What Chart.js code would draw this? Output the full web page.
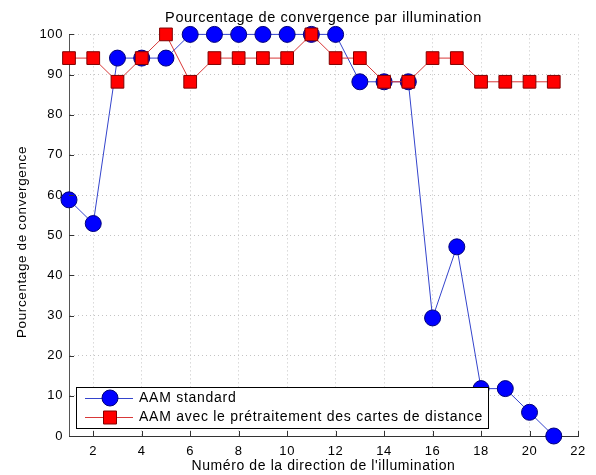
<!DOCTYPE html>
<html>
<head>
<meta charset="utf-8">
<script src="https://cdn.jsdelivr.net/npm/chart.js@4/dist/chart.umd.min.js"></script>
<style>
  html, body { margin: 0; padding: 0; background: #fff; }
  #wrap { width: 596px; height: 475px; }
</style>
</head>
<body>
<div id="wrap"><canvas id="c" width="596" height="475"></canvas></div>
<script>
const directions = [1,2,3,4,5,6,7,8,9,10,11,12,13,14,15,16,17,18,19,20,21];
const aamStandard = [58.8,52.9,94.1,94.1,94.1,100,100,100,100,100,100,100,88.2,88.2,88.2,29.4,47.1,11.8,11.8,5.9,0];
const aamDistance = [94.1,94.1,88.2,94.1,100,88.2,94.1,94.1,94.1,94.1,100,94.1,94.1,88.2,88.2,94.1,94.1,88.2,88.2,88.2,88.2];
const xTicks = [2,4,6,8,10,12,14,16,18,20,22];
const yTicks = [0,10,20,30,40,50,60,70,80,90,100];
const seriesNames = ['AAM standard', 'AAM avec le prétraitement des cartes de distance'];
const titleText = 'Pourcentage de convergence par illumination';
const xTitle = "Numéro de la direction de l'illumination";
const yTitle = 'Pourcentage de convergence';

const FONT = 'Liberation Sans, Arial, Helvetica, sans-serif';

const spacing = {
  id: 'spacing',
  beforeDraw(chart) {
    try { chart.ctx.letterSpacing = '0.6px'; } catch (e) {}
  }
};

const yTitlePlugin = {
  id: 'yTitlePlugin',
  afterDraw(chart) {
    const {ctx} = chart;
    ctx.save();
    ctx.translate(22, 242);
    ctx.rotate(-Math.PI / 2);
    ctx.font = '13.5px ' + FONT;
    ctx.fillStyle = '#000';
    ctx.textAlign = 'center';
    ctx.textBaseline = 'middle';
    ctx.fillText(yTitle, 0, 0);
    ctx.restore();
  }
};

const inwardTicks = {
  id: 'inwardTicks',
  afterDraw(chart) {
    const {ctx, chartArea: a, scales: {x, y}} = chart;
    ctx.save();
    ctx.strokeStyle = '#333';
    ctx.lineWidth = 1;
    ctx.beginPath();
    xTicks.forEach(v => {
      const px = Math.round(x.getPixelForValue(v)) + 0.5;
      ctx.moveTo(px, a.bottom); ctx.lineTo(px, a.bottom - 5);
    });
    yTicks.forEach(v => {
      const py = Math.round(y.getPixelForValue(v)) + 0.5;
      ctx.moveTo(a.left, py); ctx.lineTo(a.left + 5, py);
    });
    ctx.stroke();
    ctx.restore();
  }
};

const boxLegend = {
  id: 'boxLegend',
  afterDraw(chart) {
    const {ctx} = chart;
    const ds = chart.data.datasets;
    const L = 76.5, T = 387.5, R = 488.5, B = 428.5;
    ctx.save();
    ctx.fillStyle = '#fff';
    ctx.fillRect(L, T, R - L, B - T);
    ctx.strokeStyle = '#000';
    ctx.lineWidth = 1;
    ctx.strokeRect(L, T, R - L, B - T);
    const rows = [398, 417];
    const order = [1, 0];
    try { ctx.letterSpacing = '0.73px'; } catch (e) {}
    ctx.font = '14px ' + FONT;
    ctx.textBaseline = 'middle';
    ctx.textAlign = 'left';
    order.forEach((di, i) => {
      const d = ds[di];
      const yy = rows[i];
      ctx.strokeStyle = d.borderColor;
      ctx.lineWidth = 1;
      ctx.beginPath();
      ctx.moveTo(85, yy + 0.5); ctx.lineTo(133, yy + 0.5);
      ctx.stroke();
      ctx.fillStyle = d.pointBackgroundColor;
      ctx.strokeStyle = d.pointBorderColor;
      ctx.beginPath();
      if (d.pointStyle === 'rect') {
        ctx.rect(103.5, yy - 6, 13, 13);
      } else {
        ctx.arc(110, yy, 8, 0, Math.PI * 2);
      }
      ctx.fill();
      ctx.stroke();
      ctx.fillStyle = '#000';
      ctx.fillText(seriesNames[i], 139, yy + 0.5);
    });
    ctx.restore();
  }
};

new Chart(document.getElementById('c'), {
  type: 'line',
  data: {
    datasets: [
      {
        label: seriesNames[1],
        data: directions.map((d, i) => ({x: d, y: aamDistance[i]})),
        borderColor: '#d83838',
        borderWidth: 1,
        pointStyle: 'rect',
        pointRadius: 9,
        pointBackgroundColor: '#ff0000',
        pointBorderColor: '#800000',
        pointBorderWidth: 1,
        tension: 0,
        clip: false
      },
      {
        label: seriesNames[0],
        data: directions.map((d, i) => ({x: d, y: aamStandard[i]})),
        borderColor: '#3444cc',
        borderWidth: 1,
        pointStyle: 'circle',
        pointRadius: 8,
        pointBackgroundColor: '#0000ff',
        pointBorderColor: '#00007a',
        pointBorderWidth: 1,
        tension: 0,
        clip: false
      }
    ]
  },
  options: {
    responsive: false,
    animation: false,
    devicePixelRatio: 1,
    layout: { padding: { left: 0, right: 18, top: 0, bottom: 0 } },
    plugins: {
      legend: { display: false },
      tooltip: { enabled: false },
      title: {
        display: true,
        fullSize: false,
        text: titleText,
        color: '#000',
        font: { family: FONT, size: 14.5, weight: 'normal' },
        padding: { top: 9, bottom: 8 }
      }
    },
    scales: {
      x: {
        type: 'linear',
        min: 1, max: 22,
        afterBuildTicks: s => { s.ticks = xTicks.map(v => ({value: v})); },
        afterFit: s => { s.height = 39; },
        ticks: { color: '#000', font: { family: FONT, size: 13 }, padding: 8, maxRotation: 0, autoSkip: false },
        grid: { color: '#c4c4c4', drawTicks: false, lineWidth: 1 },
        border: { display: true, color: '#333', width: 1, dash: [1, 3] },
        title: { display: true, text: xTitle, color: '#000', font: { family: FONT, size: 14 }, padding: { top: 0, bottom: 0 } }
      },
      y: {
        type: 'linear',
        min: 0, max: 100,
        afterBuildTicks: s => { s.ticks = yTicks.map(v => ({value: v})); },
        afterFit: s => { s.width = 69; },
        ticks: { color: '#000', font: { family: FONT, size: 13 }, padding: 6 },
        grid: { color: '#c4c4c4', drawTicks: false, lineWidth: 1 },
        border: { display: true, color: '#555', width: 1, dash: [1, 3] },
        title: { display: false, text: yTitle }
      }
    }
  },
  plugins: [spacing, inwardTicks, boxLegend, yTitlePlugin]
});
</script>
</body>
</html>
